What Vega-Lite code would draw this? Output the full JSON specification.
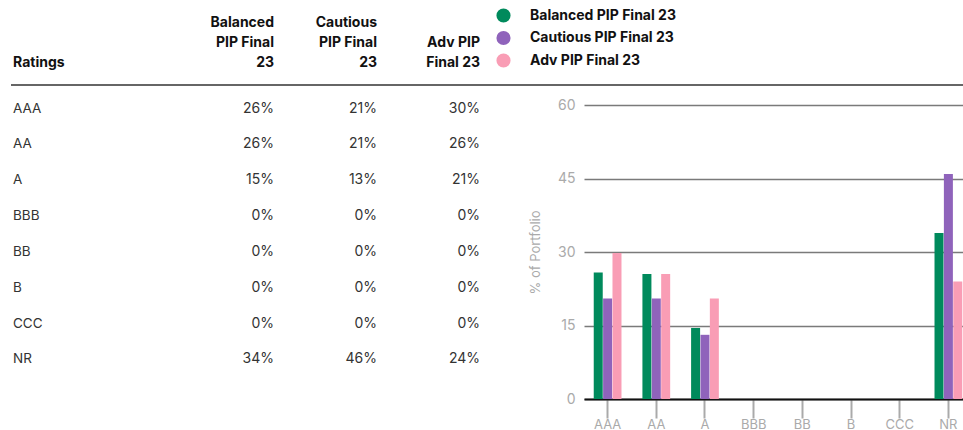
{
  "$schema": "https://vega.github.io/schema/vega-lite/v6.json",
  "autosize": {"type": "pad"},
  "padding": {"left": 10, "top": 8, "right": 0, "bottom": 0},
  "background": "white",
  "config": {
    "view": {"stroke": null},
    "font": "Inter"
  },
  "bounds": "flush",
  "spacing": 104,
  "datasets": {
    "ratings": [
      {"rating": "AAA", "portfolio": "Balanced PIP Final 23", "value": 25.8, "label": "26%"},
      {"rating": "AAA", "portfolio": "Cautious PIP Final 23", "value": 20.5, "label": "21%"},
      {"rating": "AAA", "portfolio": "Adv PIP Final 23", "value": 29.8, "label": "30%"},
      {"rating": "AA", "portfolio": "Balanced PIP Final 23", "value": 25.5, "label": "26%"},
      {"rating": "AA", "portfolio": "Cautious PIP Final 23", "value": 20.5, "label": "21%"},
      {"rating": "AA", "portfolio": "Adv PIP Final 23", "value": 25.5, "label": "26%"},
      {"rating": "A", "portfolio": "Balanced PIP Final 23", "value": 14.5, "label": "15%"},
      {"rating": "A", "portfolio": "Cautious PIP Final 23", "value": 13.1, "label": "13%"},
      {"rating": "A", "portfolio": "Adv PIP Final 23", "value": 20.5, "label": "21%"},
      {"rating": "BBB", "portfolio": "Balanced PIP Final 23", "value": 0, "label": "0%"},
      {"rating": "BBB", "portfolio": "Cautious PIP Final 23", "value": 0, "label": "0%"},
      {"rating": "BBB", "portfolio": "Adv PIP Final 23", "value": 0, "label": "0%"},
      {"rating": "BB", "portfolio": "Balanced PIP Final 23", "value": 0, "label": "0%"},
      {"rating": "BB", "portfolio": "Cautious PIP Final 23", "value": 0, "label": "0%"},
      {"rating": "BB", "portfolio": "Adv PIP Final 23", "value": 0, "label": "0%"},
      {"rating": "B", "portfolio": "Balanced PIP Final 23", "value": 0, "label": "0%"},
      {"rating": "B", "portfolio": "Cautious PIP Final 23", "value": 0, "label": "0%"},
      {"rating": "B", "portfolio": "Adv PIP Final 23", "value": 0, "label": "0%"},
      {"rating": "CCC", "portfolio": "Balanced PIP Final 23", "value": 0, "label": "0%"},
      {"rating": "CCC", "portfolio": "Cautious PIP Final 23", "value": 0, "label": "0%"},
      {"rating": "CCC", "portfolio": "Adv PIP Final 23", "value": 0, "label": "0%"},
      {"rating": "NR", "portfolio": "Balanced PIP Final 23", "value": 33.9, "label": "34%"},
      {"rating": "NR", "portfolio": "Cautious PIP Final 23", "value": 45.9, "label": "46%"},
      {"rating": "NR", "portfolio": "Adv PIP Final 23", "value": 24.0, "label": "24%"}
    ],
    "headers": [
      {"portfolio": "Balanced PIP Final 23", "header": "Balanced\nPIP Final\n23"},
      {"portfolio": "Cautious PIP Final 23", "header": "Cautious\nPIP Final\n23"},
      {"portfolio": "Adv PIP Final 23", "header": "\nAdv PIP\nFinal 23"}
    ]
  },
  "hconcat": [
    {
      "width": 467,
      "height": 258,
      "layer": [
        {
          "data": {"name": "ratings"},
          "transform": [{"filter": "datum.portfolio === 'Balanced PIP Final 23'"}],
          "mark": {"type": "text", "align": "left", "baseline": "middle", "fontSize": 13.5, "color": "#333333"},
          "encoding": {
            "x": {"value": 0},
            "y": {"field": "rating", "type": "ordinal", "scale": {"type": "point", "padding": 0.1, "domain": ["AAA", "AA", "A", "BBB", "BB", "B", "CCC", "NR"]}, "axis": null},
            "text": {"field": "rating"}
          }
        },
        {
          "data": {"name": "ratings"},
          "mark": {"type": "text", "align": "right", "baseline": "middle", "fontSize": 14, "color": "#333333"},
          "encoding": {
            "x": {"field": "portfolio", "type": "nominal", "bandPosition": 1, "scale": {"type": "band", "paddingInner": 0, "paddingOuter": 0.767, "align": 1, "domain": ["Balanced PIP Final 23", "Cautious PIP Final 23", "Adv PIP Final 23"]}, "axis": null},
            "y": {"field": "rating", "type": "ordinal"},
            "text": {"field": "label"}
          }
        },
        {
          "data": {"name": "headers"},
          "mark": {"type": "text", "align": "right", "baseline": "middle", "fontSize": 14, "fontWeight": "bold", "color": "#111111", "lineBreak": "\n", "lineHeight": 19.8, "dy": -85.5},
          "encoding": {
            "x": {"field": "portfolio", "type": "nominal", "bandPosition": 1},
            "y": {"datum": "AAA"},
            "text": {"field": "header"}
          }
        },
        {
          "data": {"values": [{"header": "Ratings"}]},
          "mark": {"type": "text", "align": "left", "baseline": "middle", "fontSize": 14, "fontWeight": "bold", "color": "#111111", "dy": -46},
          "encoding": {
            "x": {"value": 0},
            "y": {"datum": "AAA"},
            "text": {"field": "header"}
          }
        },
        {
          "data": {"values": [{"r": "AAA"}]},
          "mark": {"type": "rule", "color": "#333333", "strokeWidth": 1.5, "yOffset": -23.5},
          "encoding": {
            "y": {"datum": "AAA"},
            "x": {"value": -2},
            "x2": {"value": 951}
          }
        }
      ]
    },
    {
      "width": 388,
      "height": 294,
      "data": {"name": "ratings"},
      "mark": {"type": "bar"},
      "encoding": {
        "x": {
          "field": "rating", "type": "nominal",
          "scale": {"domain": ["AAA", "AA", "A", "BBB", "BB", "B", "CCC", "NR"], "paddingInner": 0.43, "paddingOuter": 0.2},
          "axis": {"title": null, "labelAngle": 0, "labelColor": "#aaaaaa", "labelFontSize": 13, "labelPadding": 0, "tickColor": "#aaaaaa", "tickWidth": 2, "tickSize": 19, "domainColor": "#111111", "domainWidth": 2, "grid": false}
        },
        "xOffset": {
          "field": "portfolio", "type": "nominal",
          "scale": {"domain": ["Balanced PIP Final 23", "Cautious PIP Final 23", "Adv PIP Final 23"], "paddingInner": 0.04}
        },
        "y": {
          "field": "value", "type": "quantitative",
          "scale": {"domain": [0, 60]},
          "axis": {"values": [0, 15, 30, 45, 60], "grid": true, "gridColor": "#7a7a7a", "gridWidth": 1.5, "domain": false, "ticks": false, "labelColor": "#aaaaaa", "labelFontSize": 14, "labelPadding": 9, "title": "% of Portfolio", "titleColor": "#aaaaaa", "titleFontSize": 13, "titleFontWeight": "normal", "titlePadding": 15}
        },
        "color": {
          "field": "portfolio", "type": "nominal",
          "scale": {"domain": ["Balanced PIP Final 23", "Cautious PIP Final 23", "Adv PIP Final 23"], "range": ["#008a5c", "#8f63bb", "#f99db5"]},
          "legend": {"orient": "none", "legendX": 483, "legendY": -97, "direction": "vertical", "title": null, "symbolType": "circle", "symbolSize": 200, "symbolStrokeWidth": 0, "symbolOpacity": 1, "labelFontSize": 14, "labelFontWeight": "bold", "labelColor": "#111111", "labelOffset": 19, "rowPadding": 7.5}
        }
      }
    }
  ]
}
